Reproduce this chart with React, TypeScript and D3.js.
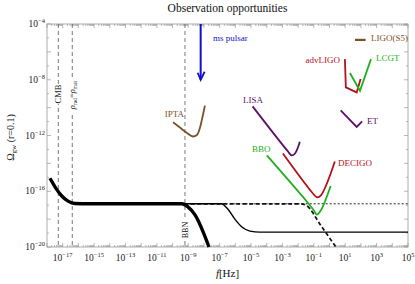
import * as d3 from "d3";

// all values are log10 of the quantity: [log10 f, log10 Omega_gw]
const inflationThick: [number, number][] = [
  [-17.81, -15.07], [-17.43, -15.79], [-17.04, -16.36], [-16.66, -16.71],
  [-16.22, -16.88], [-15.3, -16.9], [-9.4, -16.9], [-9.02, -17.12],
  [-8.57, -17.7], [-7.68, -20],
];
const inflationThin: [number, number][] = [
  [-16.3, -16.9], [-6.9, -16.9], [-6.47, -17.29], [-6.03, -18.0],
  [-5.58, -18.57], [-5.07, -18.86], [-4.43, -18.93], [5, -18.93],
];
const inflationDashed: [number, number][] = [
  [-16.3, -16.9], [-1.8, -16.9], [-1.5, -17.0], [-0.5, -18.55], [0.41, -20],
];
const inflationFlat: [number, number][] = [[-16.3, -16.9], [5, -16.9]];

const ipta: [number, number][] = [
  [-9.97, -11.05], [-9.53, -11.43], [-9.08, -11.82], [-8.7, -12.07],
  [-8.45, -11.96], [-8.25, -11.43], [-8.13, -10.86], [-7.94, -9.86],
];
const lisa: [number, number][] = [
  [-4.9, -9.91], [-2.65, -13.14], [-2.41, -13.43], [-2.2, -13.29], [-1.89, -12.45],
];
const bbo: [number, number][] = [
  [-3.99, -13.43], [-1.41, -16.79], [-0.96, -17.43], [-0.82, -17.68],
  [-0.55, -17.36], [0.07, -15.62],
];
const decigo: [number, number][] = [
  [-2.97, -13.29], [-1.12, -16.07], [-0.8, -16.43], [-0.55, -16.29], [0.34, -13.86],
];
const advLigo: [number, number][] = [
  [0.98, -6.52], [1.04, -8.55], [1.73, -8.91], [1.98, -7.95],
];
const lcgt: [number, number][] = [[1.3, -7.52], [1.94, -8.79], [2.64, -6.52]];
const et: [number, number][] = [[0.71, -10.19], [1.73, -11.38], [2.08, -10.98]];
const ligoS5: [number, number][] = [[1.62, -5.14], [2.3, -5.14]];
const msPulsar: [number, number][] = [[-8.21, -4], [-8.21, -8]];

const epochLines = [
  { name: "CMB", f: -17.28 },
  { name: "rho", f: -16.39 },
  { name: "BBN", f: -9.21 },
];

const xTickLabels = [-17, -15, -13, -11, -9, -7, -5, -3, -1, 1, 3, 5];
const yTickLabels = [-4, -8, -12, -16, -20];

const brown = "#7b5128";
const blue = "#1010c8";
const purple = "#5e0f66";
const green = "#20b020";
const red = "#b4121a";

export default function App() {
  const width = 415;
  const height = 284;
  const margin = { top: 24, right: 7, bottom: 37, left: 47 };

  const x = d3.scaleLinear().domain([-18, 5]).range([margin.left, width - margin.right]);
  const y = d3.scaleLinear().domain([-20, -4]).range([height - margin.bottom, margin.top]);

  const smooth = d3.line<[number, number]>().x((d) => x(d[0])).y((d) => y(d[1])).curve(d3.curveMonotoneX);
  const straight = d3.line<[number, number]>().x((d) => x(d[0])).y((d) => y(d[1]));
  const vee = d3.line<[number, number]>().x((d) => x(d[0])).y((d) => y(d[1])).curve(d3.curveCatmullRom.alpha(0.5));

  const x0 = x.range()[0], x1 = x.range()[1];
  const y0 = y.range()[1], y1 = y.range()[0];

  // minor ticks along frequency axis
  const xTicks: { v: number; len: number }[] = [];
  for (let e = -18; e <= 5; e++) {
    xTicks.push({ v: e, len: 4 });
    if (e < 5) for (let k = 2; k <= 9; k++) xTicks.push({ v: e + Math.log10(k), len: 2 });
  }
  const yTicks: { v: number; len: number }[] = [];
  for (let e = -20; e <= -4; e++) yTicks.push({ v: e, len: e % 2 === 0 ? 4 : 2 });

  const font = "Liberation Serif, Times New Roman, serif";
  const pulsarX = x(msPulsar[1][0]);
  const pulsarY = y(msPulsar[1][1]);

  return (
    <svg width={width} height={height} style={{ position: "absolute", left: 0, top: 0 }} fontFamily={font}>
      <rect width={width} height={height} fill="white" />
      <text x={(x0 + x1) / 2} y={12} textAnchor="middle" fontSize={11.5} fill="#111">
        Observation opportunities
      </text>

      {/* frame and ticks */}
      <rect x={x0} y={y0} width={x1 - x0} height={y1 - y0} fill="none" stroke="#9a9a9a" strokeWidth={0.8} />
      {xTicks.map((t, i) => (
        <g key={"xt" + i} stroke="#9a9a9a" strokeWidth={0.7}>
          <line x1={x(t.v)} x2={x(t.v)} y1={y1} y2={y1 - t.len} />
          <line x1={x(t.v)} x2={x(t.v)} y1={y0} y2={y0 + t.len} />
        </g>
      ))}
      {yTicks.map((t, i) => (
        <g key={"yt" + i} stroke="#9a9a9a" strokeWidth={0.7}>
          <line x1={x0} x2={x0 + t.len} y1={y(t.v)} y2={y(t.v)} />
          <line x1={x1} x2={x1 - t.len} y1={y(t.v)} y2={y(t.v)} />
        </g>
      ))}
      {xTickLabels.map((e) => (
        <text key={"xl" + e} x={x(e)} y={y1 + 14} textAnchor="middle" fontSize={9.5} fill="#222">
          10<tspan dy={-4} fontSize={6.5}>{e < 0 ? "\u2212" + -e : e}</tspan>
        </text>
      ))}
      {yTickLabels.map((e) => (
        <text key={"yl" + e} x={x0 - 2} y={y(e) + 3} textAnchor="end" fontSize={9.5} fill="#222">
          10<tspan dy={-4} fontSize={6.5}>{"\u2212" + -e}</tspan>
        </text>
      ))}
      <text x={(x0 + x1) / 2} y={277} textAnchor="middle" fontSize={11} fill="#111">
        <tspan fontStyle="italic">f</tspan>[Hz]
      </text>
      <text transform={`translate(14,${(y0 + y1) / 2 + 2}) rotate(-90)`} textAnchor="middle" fontSize={10} fill="#111">
        Ω<tspan dy={2} fontSize={7}>gw</tspan>
        <tspan dy={-2}> (r=0.1)</tspan>
      </text>

      {/* epoch markers */}
      {epochLines.map((l) => (
        <line key={l.name} x1={x(l.f)} x2={x(l.f)} y1={y0} y2={y1} stroke="#555" strokeWidth={0.8} strokeDasharray="4,3" />
      ))}
      <rect x={x(epochLines[0].f) - 4} y={84} width={8} height={20} fill="white" />
      <text transform={`translate(${x(epochLines[0].f) + 3},94) rotate(-90)`} textAnchor="middle" fontSize={8.5} fill="#111">
        CMB
      </text>
      <rect x={x(epochLines[1].f) - 4} y={78} width={8} height={34} fill="white" />
      <text transform={`translate(${x(epochLines[1].f) + 3},95) rotate(-90)`} textAnchor="middle" fontSize={8.5} fill="#111">
        <tspan fontStyle="italic">ρ</tspan>
        <tspan dy={1.5} fontSize={5.5}>rad</tspan>
        <tspan dy={-1.5}>=</tspan>
        <tspan fontStyle="italic">ρ</tspan>
        <tspan dy={1.5} fontSize={5.5}>mat</tspan>
      </text>
      <rect x={x(epochLines[2].f) - 4} y={220} width={8} height={19} fill="white" />
      <text transform={`translate(${x(epochLines[2].f) + 3},230) rotate(-90)`} textAnchor="middle" fontSize={8} fill="#111">
        BBN
      </text>

      {/* inflationary background */}
      <path d={straight(inflationFlat) ?? ""} fill="none" stroke="#222" strokeWidth={1} strokeDasharray="2,2" />
      <path d={smooth(inflationDashed) ?? ""} fill="none" stroke="#111" strokeWidth={1.7} strokeDasharray="4,2.5" />
      <path d={smooth(inflationThin) ?? ""} fill="none" stroke="#000" strokeWidth={1.4} />
      <path d={smooth(inflationThick) ?? ""} fill="none" stroke="#000" strokeWidth={3.4} />

      {/* experiments */}
      <path d={straight(msPulsar) ?? ""} fill="none" stroke={blue} strokeWidth={2} />
      <polyline points={`${pulsarX - 3},${pulsarY - 7} ${pulsarX},${pulsarY} ${pulsarX + 4},${pulsarY - 8}`} fill="none" stroke={blue} strokeWidth={1.8} />
      <text x={213} y={41} fontSize={9} fill={blue}>ms pulsar</text>

      <path d={smooth(ipta) ?? ""} fill="none" stroke={brown} strokeWidth={1.8} />
      <text x={184} y={117} textAnchor="end" fontSize={9} fill={brown}>IPTA</text>

      <path d={vee(lisa) ?? ""} fill="none" stroke={purple} strokeWidth={1.8} />
      <text x={243} y={103} fontSize={9} fill={purple}>LISA</text>

      <path d={vee(bbo) ?? ""} fill="none" stroke={green} strokeWidth={1.8} />
      <text x={252} y={152} fontSize={9} fill={green}>BBO</text>

      <path d={vee(decigo) ?? ""} fill="none" stroke={red} strokeWidth={1.8} />
      <text x={338} y={166} fontSize={9} fill={red}>DECIGO</text>

      <path d={straight(advLigo) ?? ""} fill="none" stroke={red} strokeWidth={1.8} />
      <text x={340} y={63} textAnchor="end" fontSize={9} fill={red}>advLIGO</text>

      <path d={straight(lcgt) ?? ""} fill="none" stroke={green} strokeWidth={1.8} />
      <text x={376} y={61} fontSize={9} fill={green}>LCGT</text>

      <path d={straight(et) ?? ""} fill="none" stroke={purple} strokeWidth={1.8} />
      <text x={367} y={124} fontSize={9} fill={purple}>ET</text>

      <path d={straight(ligoS5) ?? ""} fill="none" stroke={brown} strokeWidth={2.2} />
      <text x={371} y={41} fontSize={9} fill={brown}>LIGO(S5)</text>
    </svg>
  );
}
